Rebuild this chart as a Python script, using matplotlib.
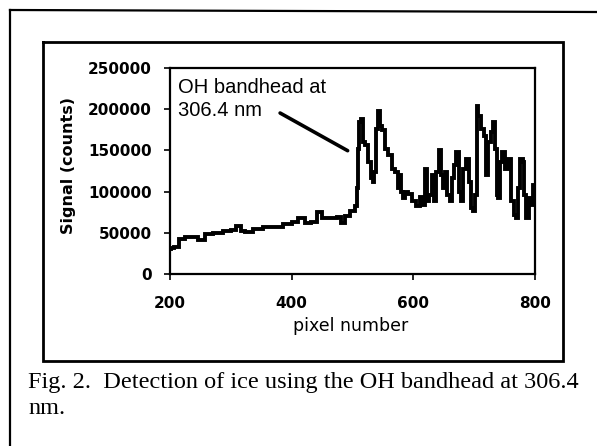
import matplotlib
matplotlib.use("Agg")
import matplotlib.pyplot as plt
from matplotlib.lines import Line2D

pixel = [200, 202, 212, 219, 230, 240, 252, 262, 279, 295, 305, 312, 320, 328, 345,
         362, 378, 395, 405, 416, 427, 438, 446, 454, 471, 479, 484, 490, 501, 506,
         508, 510, 512, 517, 519, 522, 529, 532, 534, 537, 541, 544, 548, 550, 556,
         562, 567, 573, 575, 578, 581, 584, 589, 595, 600, 608, 614, 617, 621, 623,
         628, 632, 636, 640, 644, 647, 650, 654, 658, 661, 665, 669, 672, 677, 680,
         684, 689, 693, 696, 700, 704, 705, 709, 714, 718, 721, 726, 729, 732, 736,
         738, 741, 745, 748, 753, 759, 763, 767, 771, 774, 778, 781, 784, 788, 792,
         795, 797, 800]
signal = [30000, 31000, 33000, 43000, 45500, 44500, 41600, 48000, 49500, 52000, 53000, 58700, 52000, 50700, 54800,
          56700, 57500, 60800, 62700, 68000, 61500, 63000, 74700, 68000, 68000, 69000, 62000, 70700, 77000, 83000,
          104000, 152000, 184000, 188000, 160000, 156000, 136000, 116000, 112000, 124000, 176000, 198000, 180000, 175000, 152000,
          144000, 128000, 124000, 104000, 120000, 100000, 92000, 100000, 97000, 88000, 82000, 94000, 84000, 128000, 88000,
          96000, 120000, 88000, 124000, 150000, 120000, 104000, 124000, 96000, 88000, 116000, 132000, 148000, 100000, 88000,
          128000, 140000, 112000, 80000, 76000, 96000, 204000, 192000, 176000, 168000, 120000, 160000, 172000, 184000, 152000,
          96000, 92000, 136000, 148000, 128000, 140000, 88000, 72000, 68000, 104000, 140000, 136000, 96000, 68000, 92000,
          84000, 108000, 100000]

x_ticks = [200, 400, 600, 800]
y_ticks = [0, 50000, 100000, 150000, 200000, 250000]
y_tick_labels = ["0", "50000", "100000", "150000", "200000", "250000"]
annotation_text = "OH bandhead at\n306.4 nm"
caption_line1 = "Fig. 2.  Detection of ice using the OH bandhead at 306.4"
caption_line2 = "nm."

W, H = 597, 446
fig = plt.figure(figsize=(W / 100, H / 100), dpi=100)

def fx(px):
    return px / W

def fy(py):
    return 1 - py / H

# outer frame (left and top edges)
fig.add_artist(Line2D([fx(10), fx(10)], [fy(446), fy(10)], color="black", lw=1.6))
fig.add_artist(Line2D([fx(10), fx(597)], [fy(10), fy(12)], color="black", lw=1.6))
# chart box
bx0, by0, bx1, by1 = 43, 42, 563, 361
fig.add_artist(Line2D([fx(bx0), fx(bx1), fx(bx1), fx(bx0), fx(bx0)],
                      [fy(by0), fy(by0), fy(by1), fy(by1), fy(by0)],
                      color="black", lw=2.0, solid_joinstyle="miter"))

ax_l, ax_r, ax_t, ax_b = 170, 535, 68, 274
ax = fig.add_axes([fx(ax_l), fy(ax_b), (ax_r - ax_l) / W, (ax_b - ax_t) / H])
ax.plot(pixel, signal, color="black", lw=2.8, solid_joinstyle="miter",
        drawstyle="steps-mid")
ax.set_xlim(200, 800)
ax.set_ylim(0, 250000)
ax.set_xticks(x_ticks)
ax.set_xticklabels([str(t) for t in x_ticks])
ax.set_yticks(y_ticks)
ax.set_yticklabels(y_tick_labels)
for s in ax.spines.values():
    s.set_linewidth(1.6)
ax.tick_params(axis="both", direction="out", length=4, width=1.2)
ax.tick_params(axis="y", pad=9)
ax.tick_params(axis="x", pad=12)
for lab in ax.get_xticklabels() + ax.get_yticklabels():
    lab.set_fontfamily("DejaVu Sans")
    lab.set_fontweight("bold")
    lab.set_fontsize(11)

ax.text(213, 238000, annotation_text, ha="left", va="top", fontsize=14.5,
        family="Liberation Sans", linespacing=1.3)
ax.annotate("", xy=(496, 148000), xytext=(377, 197000),
            arrowprops=dict(arrowstyle="-", lw=2.6, color="black"))

fig.text(fx(69), fy(166), "Signal (counts)", rotation=90, ha="center", va="center",
         fontsize=11.5, fontweight="bold", family="DejaVu Sans")
fig.text(fx(351), fy(326), "pixel number", ha="center", va="center",
         fontsize=12.5, family="DejaVu Sans")

fig.text(fx(28), fy(388), caption_line1, ha="left", va="baseline", fontsize=17.5,
         family="Liberation Serif")
fig.text(fx(28), fy(414), caption_line2, ha="left", va="baseline", fontsize=17.5,
         family="Liberation Serif")

fig.savefig("out.png", dpi=100)
